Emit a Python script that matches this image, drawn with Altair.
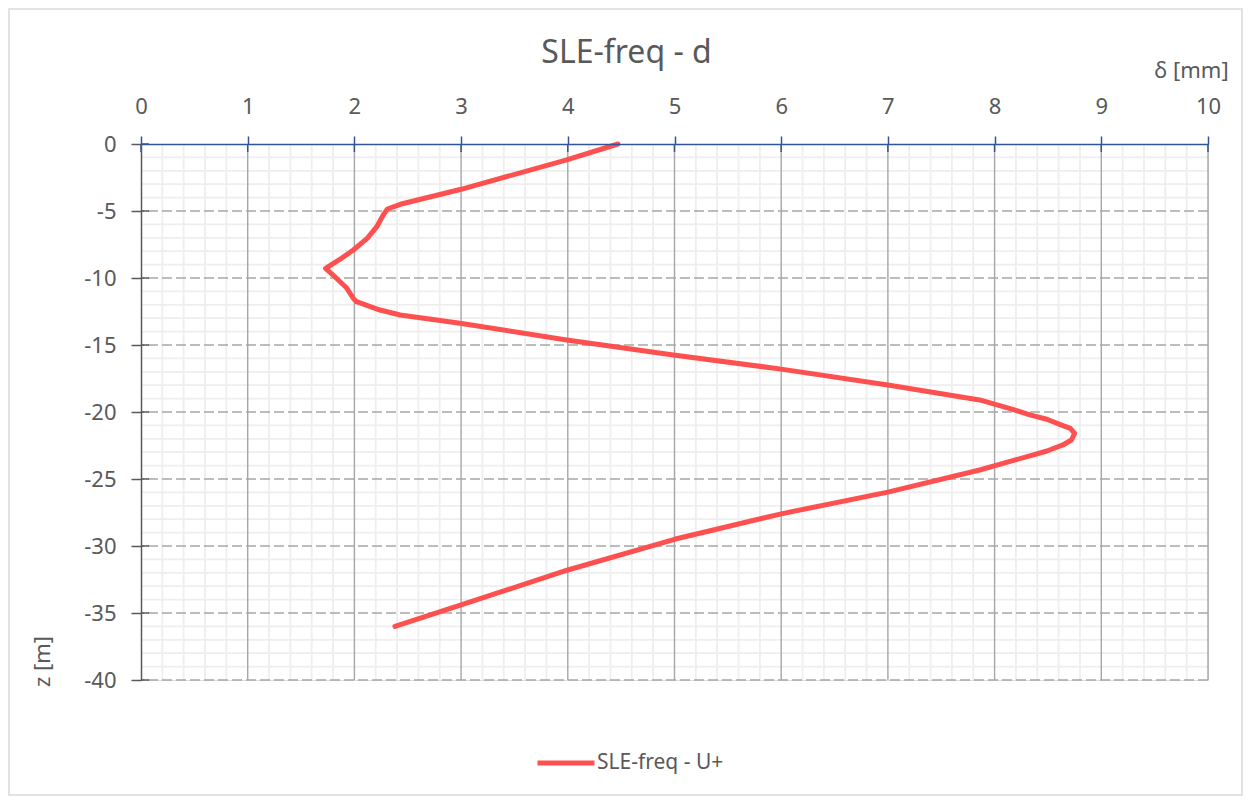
import altair as alt
import numpy as np
import pandas as pd

# ---- data ----
delta_mm = [4.47, 3.99, 3.0, 2.43, 2.31, 2.27, 2.21, 2.12, 1.99, 1.87, 1.73,
            1.80, 1.93, 1.99, 2.02, 2.24, 2.43, 2.99,
            3.99, 4.99, 6.0, 7.0,
            7.86, 8.17, 8.33, 8.49, 8.61, 8.71, 8.75, 8.72, 8.64, 8.49, 8.33, 8.17, 7.86,
            7.0, 6.0, 5.0, 4.0, 3.0, 2.38]
z_m = [0.0, -1.19, -3.38, -4.5, -4.85, -5.3, -6.17, -7.04, -7.91, -8.58, -9.28,
       -9.78, -10.77, -11.52, -11.77, -12.39, -12.76, -13.38,
       -14.62, -15.75, -16.8, -17.99,
       -19.1, -19.8, -20.22, -20.54, -20.92, -21.22, -21.59, -22.09, -22.46, -22.91, -23.28, -23.63, -24.33,
       -25.98, -27.6, -29.5, -31.79, -34.4, -36.0]
series_name = "SLE-freq - U+"
chart_title = "SLE-freq - d"
x_title = "δ [mm]"
y_title = "z [m]"

x_major = list(range(0, 11))
y_major = list(range(-40, 1, 5))

df = pd.DataFrame({"delta": delta_mm, "z": z_m, "order": list(range(len(z_m))),
                   "series": [series_name] * len(z_m)})

W, H = 1067, 536
TXT = "#595959"
FONT = "Noto Sans"

xscale = alt.Scale(domain=[0, 10], nice=False, zero=False)
yscale = alt.Scale(domain=[-40, 0], nice=False, zero=False)

x_minor = pd.DataFrame({"v": [round(v, 2) for v in np.arange(0.2, 10.01, 0.2) if abs(v - round(v)) > 1e-6]})
y_minor = pd.DataFrame({"v": [v for v in range(-39, 0) if v % 5 != 0]})
x_grid = pd.DataFrame({"v": x_major[1:]})
y_grid = pd.DataFrame({"v": y_major[:-1]})

minor_x = alt.Chart(x_minor).mark_rule(color="#EEEEEE", strokeWidth=1.8).encode(
    x=alt.X("v:Q", scale=xscale))
minor_y = alt.Chart(y_minor).mark_rule(color="#EEEEEE", strokeWidth=1.8).encode(
    y=alt.Y("v:Q", scale=yscale))
major_x = alt.Chart(x_grid).mark_rule(color="#A6A6A6", strokeWidth=1.4).encode(
    x=alt.X("v:Q", scale=xscale))
major_y = alt.Chart(y_grid).mark_rule(color="#A6A6A6", strokeWidth=1.4, strokeDash=[10, 4]).encode(
    y=alt.Y("v:Q", scale=yscale))

# inner halves of the crossing tick marks
xt_in = alt.Chart(pd.DataFrame({"v": x_major})).mark_rule(color="#2F5597", strokeWidth=1.5).encode(
    x=alt.X("v:Q", scale=xscale), y=alt.value(0), y2=alt.value(8))
yt_in = alt.Chart(pd.DataFrame({"v": y_major})).mark_rule(color="#595959", strokeWidth=1.5).encode(
    y=alt.Y("v:Q", scale=yscale), x=alt.value(0), x2=alt.value(8))

# light outer frame of the chart area
frame = alt.Chart(pd.DataFrame({"a": [0]})).mark_rect(
    filled=False, color="#D9D9D9", strokeWidth=1.5).encode(
    x=alt.value(-132), x2=alt.value(1101), y=alt.value(-135), y2=alt.value(651))

line = alt.Chart(df).mark_line(strokeWidth=5, strokeCap="round", strokeJoin="round",
                               interpolate="linear").encode(
    x=alt.X("delta:Q", scale=xscale,
            axis=alt.Axis(orient="top", values=x_major, labelExpr="'' + datum.value",
                          title=x_title, grid=False, labelFlush=False, zindex=1,
                          domainColor="#2F5597", domainWidth=1.5, tickColor="#2F5597",
                          tickWidth=1.5, tickSize=8, labelPadding=18, labelFontSize=22,
                          labelColor=TXT, labelFont=FONT, titleFont=FONT,
                          titleFontSize=22, titleFontWeight="normal", titleColor=TXT,
                          titleX=1050, titleY=-74, titleAlign="center",
                          titleBaseline="middle", titleAngle=0)),
    y=alt.Y("z:Q", scale=yscale,
            axis=alt.Axis(orient="left", values=y_major, labelExpr="'' + datum.value",
                          title=y_title, grid=False, labelFlush=False, zindex=1,
                          domainColor="#595959", domainWidth=1.5, tickColor="#595959",
                          tickWidth=1.5, tickSize=10, labelPadding=15, labelFontSize=22,
                          labelColor=TXT, labelFont=FONT, titleFont=FONT, titleFontSize=22,
                          titleFontWeight="normal", titleColor=TXT, titleAngle=-90,
                          titleX=-99, titleY=517, titleAlign="center",
                          titleBaseline="middle")),
    order=alt.Order("order:Q"),
    color=alt.Color("series:N", scale=alt.Scale(range=["#FF5050"]),
                    legend=alt.Legend(orient="none", legendX=394, legendY=588, title=None,
                                      symbolType="stroke", symbolStrokeWidth=5,
                                      symbolSize=3249, labelFontSize=21, labelColor=TXT,
                                      labelFont=FONT, labelOffset=0)),
)

chart = alt.layer(frame, minor_x, minor_y, major_x, major_y, xt_in, yt_in, line).properties(
    width=W, height=H,
    title=alt.TitleParams(chart_title, fontSize=32, font=FONT, color=TXT, fontWeight="normal",
                          anchor="middle", dx=-48, offset=0, dy=94, baseline="bottom"),
    autosize=alt.AutoSizeParams(type="none"),
    padding={"left": 133, "top": 136, "right": 35, "bottom": 116},
).configure_view(stroke=None).configure(background="white")

chart.save("out.html", embed_options={"renderer": "svg", "actions": False})
